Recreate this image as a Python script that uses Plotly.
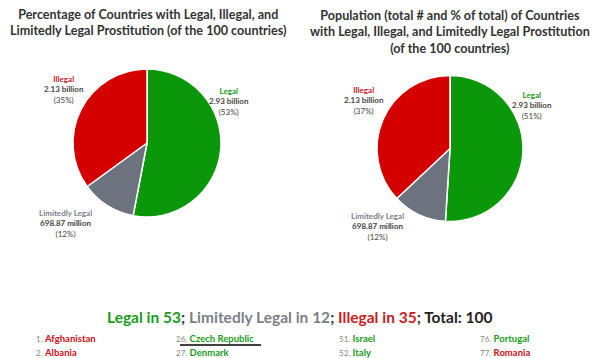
import plotly.graph_objects as go

# ---- data ----
categories = ["Legal", "Limitedly Legal", "Illegal"]
country_pct = [53, 12, 35]
population_pct = [51, 12, 37]
population_text = ["2.93 billion", "698.87 million", "2.13 billion"]
left_label_pct = ["53%", "12%", "35%"]
right_label_pct = ["51%", "12%", "37%"]
colors = ["#0a980a", "#6d737e", "#d40000"]
label_colors = ["#1a9a1a", "#7a7f88", "#c8201e"]

counts = [53, 12, 35]
total = 100

list_numbers = [[1, 2], [26, 27], [51, 52], [76, 77]]
list_names = [["Afghanistan", "Albania"], ["Czech Republic", "Denmark"],
              ["Israel", "Italy"], ["Portugal", "Romania"]]
list_status = [["Illegal", "Illegal"], ["Legal", "Legal"],
               ["Legal", "Legal"], ["Legal", "Illegal"]]

FONT = "Lato"
# the page body has an 8px margin, so the figure is drawn 8px smaller and shifted
OFF = 8
W, H = 600 - OFF, 358 - OFF

def fx(x):
    return (x - OFF) / W

def fy(y):
    return 1 - (y - OFF) / H

fig = go.Figure()
fig.add_trace(go.Pie(
    labels=categories, values=country_pct, sort=False, direction="clockwise",
    rotation=0, marker=dict(colors=colors, line=dict(color="white", width=1.5)),
    textinfo="none", hoverinfo="label+percent", showlegend=False,
    domain=dict(x=[fx(73), fx(221)], y=[fy(217), fy(69)])))
fig.add_trace(go.Pie(
    labels=categories, values=population_pct, sort=False, direction="clockwise",
    rotation=0, marker=dict(colors=colors, line=dict(color="white", width=1.5)),
    textinfo="none", hoverinfo="label+percent", showlegend=False,
    domain=dict(x=[fx(377), fx(523)], y=[fy(222), fy(75)])))

ann = []

def px(x, y, text, size=9, color="#333", align="center", xanchor="center", yanchor="middle", family=FONT):
    ann.append(dict(x=fx(x), y=fy(y), xref="paper", yref="paper", text=text,
                    showarrow=False, align=align, xanchor=xanchor, yanchor=yanchor,
                    font=dict(family=family, size=size, color=color)))

# titles
px(148, 23, "<b>Percentage of Countries with Legal, Illegal, and<br>Limitedly Legal Prostitution (of the 100 countries)</b>", size=12.6, color="#333")
px(450, 32, "<b>Population (total # and % of total) of Countries<br>with Legal, Illegal, and Limitedly Legal Prostitution<br>(of the 100 countries)</b>", size=12.6, color="#333")

def slice_label(x, y, i, pct):
    txt = (f"<b><span style='color:{label_colors[i]}'>{categories[i]}</span></b><br>"
           f"<b>{population_text[i]}</b><br>({pct})")
    px(x, y, txt, size=8, color="#444")

# left labels
slice_label(64, 89, 2, left_label_pct[2])
slice_label(229, 101, 0, left_label_pct[0])
slice_label(65, 223, 1, left_label_pct[1])
# right labels
slice_label(364, 100, 2, right_label_pct[2])
slice_label(532, 105, 0, right_label_pct[0])
slice_label(377, 226, 1, right_label_pct[1])

# summary line
summary = (f"<b><span style='color:{label_colors[0]}'>Legal in {counts[0]}</span>; "
           f"<span style='color:{label_colors[1]}'>Limitedly Legal in {counts[1]}</span>; "
           f"<span style='color:{label_colors[2]}'>Illegal in {counts[2]}</span>; "
           f"<span style='color:#222'>Total: {total}</span></b>")
px(300, 317, summary, size=15.5)

# country list
status_color = {"Legal": "#1a9a1a", "Illegal": "#d0101a", "Limitedly Legal": "#7a7f88"}
col_x = [34, 174, 337, 478]
row_y = [338, 352]
for c in range(4):
    for r in range(2):
        t = (f"<span style='color:#888;font-size:8px'>{list_numbers[c][r]}.</span> "
             f"<b><span style='color:{status_color[list_status[c][r]]}'>{list_names[c][r]}</span></b>")
        px(col_x[c], row_y[r], t, size=9.5, xanchor="left")

fig.update_layout(
    width=W, height=H, margin=dict(l=0, r=0, t=0, b=0),
    paper_bgcolor="white", plot_bgcolor="white", annotations=ann,
    shapes=[dict(type="line", xref="paper", yref="paper",
                 x0=fx(180), x1=fx(261), y0=fy(345), y1=fy(345),
                 line=dict(color="black", width=1.5))])

fig.write_html("out.html")
